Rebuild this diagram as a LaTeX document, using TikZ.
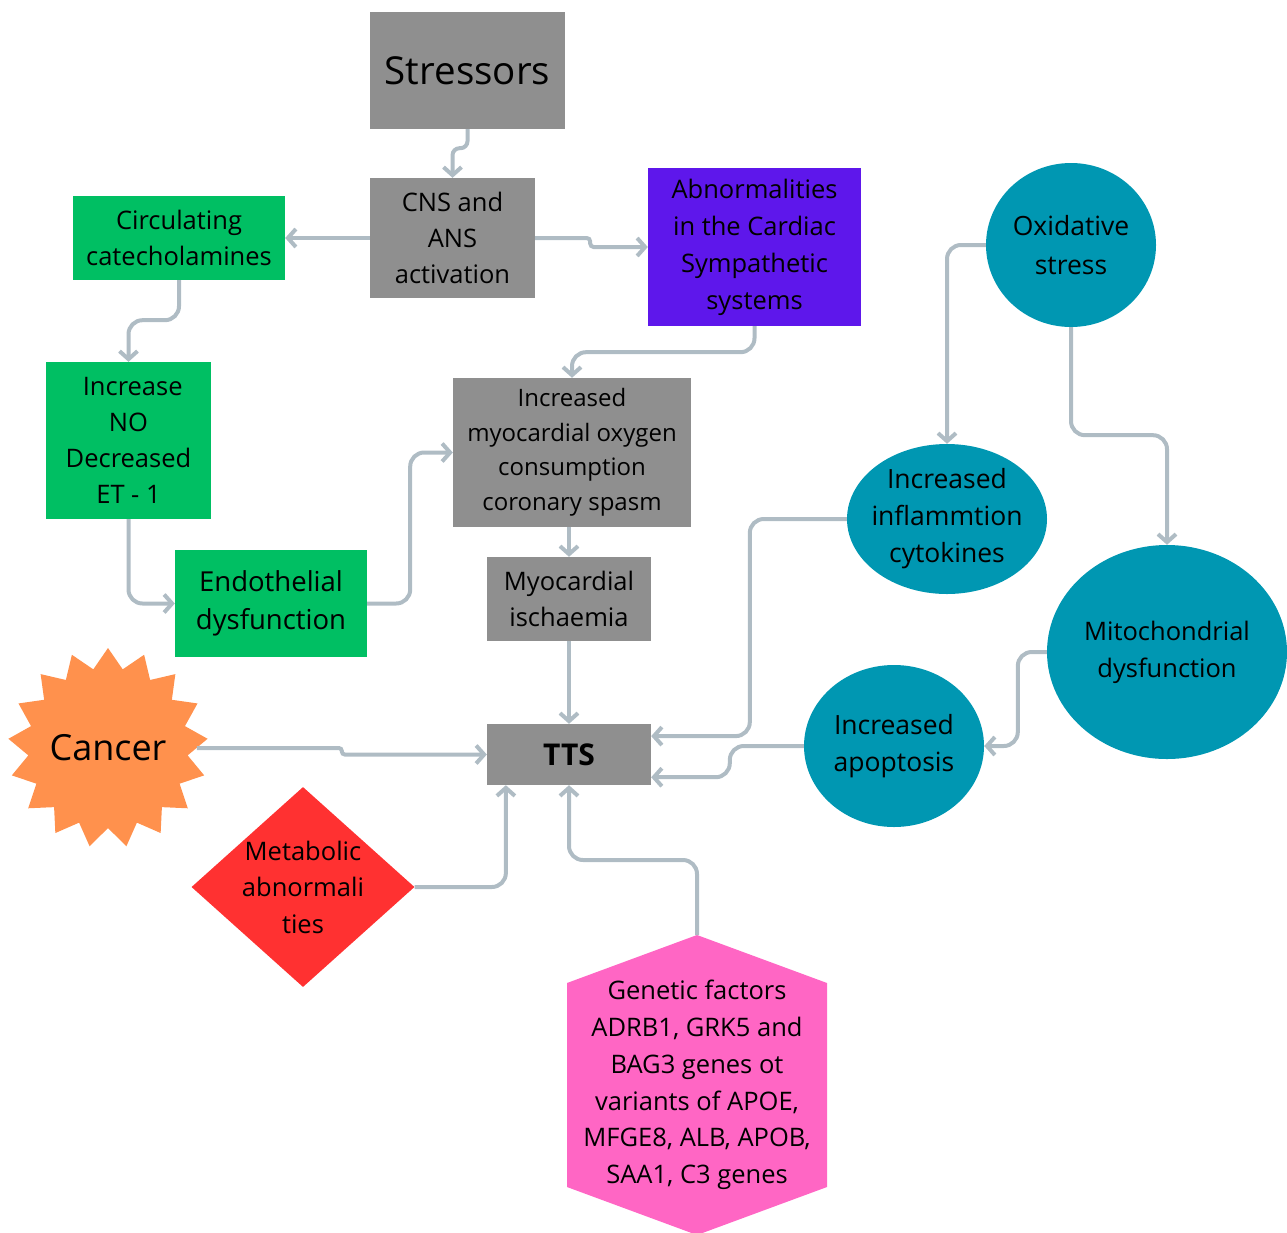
\documentclass[tikz,border=0pt]{standalone}
\usepackage{fontspec}
\setmainfont{Open Sans}
\usetikzlibrary{shapes.geometric,arrows.meta,calc,backgrounds}
\definecolor{gbox}{HTML}{8F8F8F}
\definecolor{gr}{HTML}{00BF63}
\definecolor{pu}{HTML}{5E17EB}
\definecolor{te}{HTML}{0097B2}
\definecolor{orn}{HTML}{FF914D}
\definecolor{rd}{HTML}{FF3131}
\definecolor{pk}{HTML}{FF66C4}
\definecolor{lnc}{HTML}{AFBCC4}
\tikzset{
  box/.style={rectangle, inner sep=0, align=center, text=black, font=\fontsize{25.5}{36}\selectfont},
  oval/.style={ellipse, inner sep=0, fill=te},
  txt/.style={align=center, inner sep=0, text=black, font=\fontsize{25.5}{37}\selectfont},
  conn/.style={draw=lnc, line width=4, rounded corners=14, -{Straight Barb[length=8,width=18]}},
}
\begin{document}
\begin{tikzpicture}[x=1pt,y=-1pt]
\useasboundingbox (0,0) rectangle (1287,1232);
% rectangles
\node[box, fill=gbox, minimum width=195, minimum height=117, font=\fontsize{38.5}{44}\selectfont] (stress) at (467.5,70.5) {Stressors};
\node[box, fill=gbox, minimum width=165, minimum height=120] (cns) at (452.5,238) {CNS and\\ANS\\activation};
\node[box, fill=gr, minimum width=212, minimum height=84] (circ) at (179,238) {Circulating\\catecholamines};
\node[box, fill=pu, minimum width=213, minimum height=158, font=\fontsize{25.5}{37}\selectfont] (abn) at (754.5,247) {Abnormalities\\in the Cardiac\\Sympathetic\\systems};
\node[box, fill=gr, minimum width=165, minimum height=157] (incno) at (128.5,440.5) {\,\,Increase\\NO\\Decreased\\ET - 1};
\node[box, fill=gbox, minimum width=238, minimum height=149, font=\fontsize{24}{34.5}\selectfont] (myo) at (572,452.5) {Increased\\myocardial oxygen\\consumption\\coronary spasm};
\node[box, fill=gr, minimum width=192, minimum height=107, font=\fontsize{27.5}{38}\selectfont] (endo) at (271,603.5) {Endothelial\\dysfunction};
\node[box, fill=gbox, minimum width=164, minimum height=84] (isch) at (569,599) {Myocardial\\ischaemia};
\node[box, fill=gbox, minimum width=164, minimum height=61, font=\fontsize{30}{34}\selectfont\bfseries] (tts) at (569,754.5) {TTS};
% ellipses
\node[oval, minimum width=170, minimum height=164] (ox) at (1071,245) {};
\node[txt, font=\fontsize{26.5}{39}\selectfont] at (ox) {Oxidative\\stress};
\node[oval, minimum width=200, minimum height=150] (infl) at (947,519) {};
\node[txt, font=\fontsize{26.5}{37}\selectfont] at (infl) {Increased\\inflammtion\\cytokines};
\node[oval, minimum width=240, minimum height=214] (mito) at (1167,652) {};
\node[txt] at (mito) {Mitochondrial\\dysfunction};
\node[oval, minimum width=180, minimum height=162] (apo) at (894,746) {};
\node[txt, font=\fontsize{26.5}{37}\selectfont] at (apo) {Increased\\apoptosis};
% cancer star
\node[star, star points=17, star point ratio=1.25, minimum size=200, inner sep=0, fill=orn] (cancer) at (108,748) {};
\node[txt, font=\fontsize{36}{40}\selectfont] at (cancer) {Cancer};
% metabolic diamond
\node[diamond, minimum width=223, minimum height=200, inner sep=0, fill=rd] (meta) at (303,887) {};
\node[txt, font=\fontsize{25.5}{36.5}\selectfont] at (meta) {Metabolic\\abnormali\\ties};
% genetic hexagon
\fill[pk] (697,935) -- (827,983) -- (827,1187) -- (697,1235) -- (567,1187) -- (567,983) -- cycle;
\coordinate (gentop) at (697,935);
\node[txt, font=\fontsize{25.5}{36.8}\selectfont] (gen) at (697,1085) {Genetic factors\\ADRB1, GRK5 and\\BAG3 genes ot\\variants of APOE,\\MFGE8, ALB, APOB,\\SAA1, C3 genes};
% connectors
\draw[conn, rounded corners=7] (stress.south) -- ++(0,19) -| (cns.north);
\draw[conn] (cns.west) -- (circ.east);
\draw[conn, rounded corners=3.5] (cns.east) -- ++(55,0) |- (abn.west);
\draw[conn] (circ.south) -- ++(0,40) -| (incno.north);
\draw[conn] (abn.south) -- ++(0,26) -| (myo.north);
\draw[conn] (incno.south) |- (endo.west);
\draw[conn] (endo.east) -- ++(43,0) |- (myo.west);
\draw[conn] (isch.north |- myo.south) -- (isch.north);
\draw[conn] (isch.south) -- (tts.north);
\draw[conn, rounded corners=3] (cancer.east) -- ++(145,0) |- (tts.west);
\draw[conn] (meta.east) -| ($(tts.south west)!0.116!(tts.south east)$);
\draw[conn] (gentop) -- ++(0,-75) -| (tts.south);
\draw[conn] (ox.west) -| (infl.north);
\draw[conn] (ox.south) -- ++(0,108) -| (mito.north);
\draw[conn] (infl.west) -- ++(-97,0) |- ($(tts.north east)!0.2!(tts.south east)$);
\draw[conn] (mito.west) -- ++(-29,0) |- (apo.east);
\draw[conn] (apo.west) -- ++(-74,0) |- ($(tts.north east)!0.87!(tts.south east)$);
\end{tikzpicture}
\end{document}
